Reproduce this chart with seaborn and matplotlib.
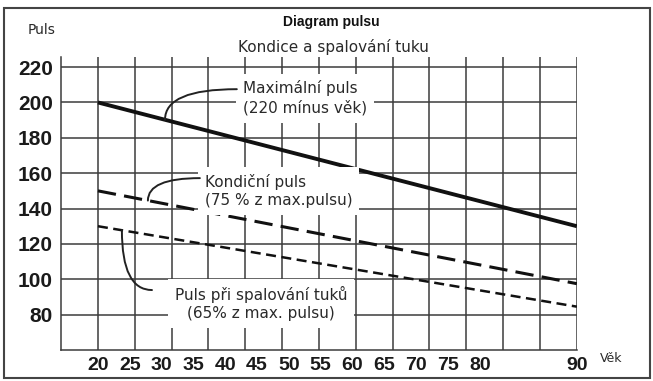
import numpy as np
import pandas as pd
import seaborn as sns
import matplotlib.pyplot as plt
from matplotlib import font_manager
from matplotlib.patches import Rectangle

# věk a pulsy (220 minus věk, 75 %, 65 %)
vek = [20, 90]
max_puls = [200, 130]
kondicni_puls = [150, 97.5]
spalovani_puls = [130, 84.5]

y_ticks = [220, 200, 180, 160, 140, 120, 100, 80]
x_labels = ['20', '25', '30', '35', '40', '45', '50', '55', '60', '65', '70', '75', '80', '90']

df = pd.DataFrame({'vek': vek, 'max': max_puls, 'kond': kondicni_puls, 'spal': spalovani_puls})

sns.set_style('white')
plt.rcParams['font.family'] = ['DejaVu Sans']

# úzké písmo pro čísla na ose x, pokud je k dispozici
names = {f.name for f in font_manager.fontManager.ttflist}
narrow = 'Liberation Sans Narrow' if 'Liberation Sans Narrow' in names else 'Liberation Sans'
x_size = 15 if narrow == 'Liberation Sans Narrow' else 14

fig = plt.figure(figsize=(6.53, 3.81), dpi=100)
ax = fig.add_axes([0.0934, 0.0814, 0.790, 0.769])

grid_col = '#3c3c3c'
# mřížka: 14 svislých čar mezi 20 a 90, vodorovné po 20
for x in np.linspace(20, 90, 14):
    ax.axvline(x, color=grid_col, lw=1.1, zorder=1)
for y in y_ticks:
    ax.axhline(y, color=grid_col, lw=1.1, zorder=1)

sns.lineplot(data=df, x='vek', y='max', ax=ax, color='#111111', lw=2.8,
             solid_capstyle='butt', zorder=3)
sns.lineplot(data=df, x='vek', y='kond', ax=ax, color='#111111', lw=2.2,
             linestyle=(0, (6, 2.7)), zorder=3)
sns.lineplot(data=df, x='vek', y='spal', ax=ax, color='#111111', lw=1.8,
             linestyle=(0, (4, 2.2)), zorder=3)

ax.set_xlim(14.6, 90)
ax.set_ylim(60, 225.7)
ax.set_xlabel('')
ax.set_ylabel('')

for s in ['top', 'right']:
    ax.spines[s].set_visible(False)
for s in ['left', 'bottom']:
    ax.spines[s].set_color(grid_col)
    ax.spines[s].set_linewidth(1.1)

ax.set_yticks(y_ticks)
ax.set_yticklabels([str(v) for v in y_ticks], family='Liberation Sans', weight='bold',
                   fontsize=15, color='#1a1a1a')
# popisky osy x jsou v originále mírně stlačené vůči mřížce
x_label_pos = list(np.linspace(20, 75.8, 13)) + [90]
ax.set_xticks(x_label_pos)
ax.set_xticklabels(x_labels, family=narrow, weight='bold', fontsize=x_size, color='#1a1a1a')
ax.tick_params(axis='both', length=0)
ax.tick_params(axis='y', pad=6)
ax.tick_params(axis='x', pad=5)

txt_col = '#2a2a2a'
box = dict(boxstyle='square,pad=0.45', fc='white', ec='none')
arc = dict(arrowstyle='-', color='#222222', lw=1.4, shrinkA=0, shrinkB=0,
           connectionstyle='angle3,angleA=0,angleB=90')

ax.text(41.2, 202.5, 'Maximální puls\n(220 mínus věk)', ha='left', va='center', color=txt_col,
        fontsize=11, linespacing=1.3, bbox=box, zorder=4)
ax.annotate('', xy=(29.8, 190.2), xytext=(40.3, 207.5), arrowprops=arc, zorder=5)

ax.text(35.6, 149.9, 'Kondiční puls\n(75 % z max.pulsu)', ha='left', va='center', color=txt_col,
        fontsize=11, linespacing=1.3, bbox=box, zorder=4)
ax.annotate('', xy=(27.3, 144.5), xytext=(34.9, 157.2), arrowprops=arc, zorder=5)

ax.text(43.8, 86.3, 'Puls při spalování tuků\n(65% z max. pulsu)', ha='center', va='center',
        multialignment='center', color=txt_col, fontsize=11, linespacing=1.3, bbox=box, zorder=4)
ax.annotate('', xy=(23.5, 127.7), xytext=(27.9, 93.9), arrowprops=arc, zorder=5)

W, H = 653, 381
fig.text(331 / W, 1 - 22 / H, 'Diagram pulsu', ha='center', va='center',
         family=narrow, weight='bold', fontsize=10, color='#111111')
fig.text(333 / W, 1 - 47 / H, 'Kondice a spalování tuku', ha='center', va='center',
         fontsize=11, color=txt_col)
fig.text(42 / W, 1 - 30 / H, 'Puls', ha='center', va='center', fontsize=10, color=txt_col)
fig.text(600 / W, 1 - 359 / H, 'Věk', ha='left', va='center', fontsize=9, color=txt_col)

fig.patches.append(Rectangle((4 / W, 3 / H), 646 / W, 370 / H, transform=fig.transFigure,
                             fill=False, ec='#444444', lw=1.5))

fig.savefig('out.png', dpi=100)
